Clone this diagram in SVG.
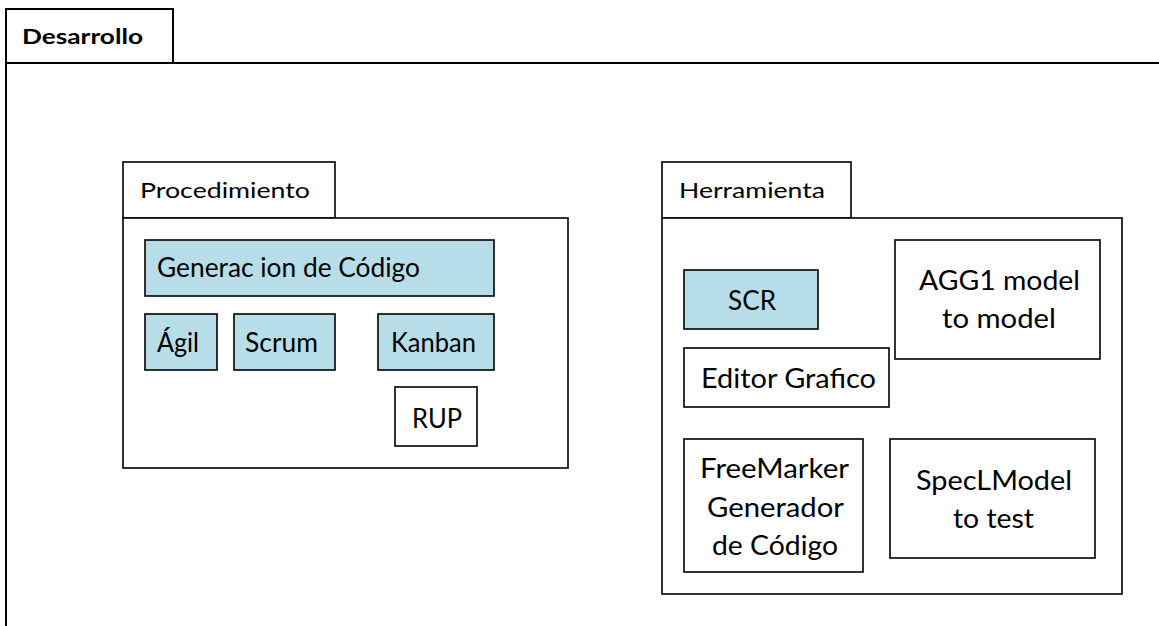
<svg xmlns="http://www.w3.org/2000/svg" width="1159" height="626" viewBox="0 0 1159 626">
<style>
.fr{fill:#fff;stroke:#000;stroke-width:1.6}
.bx{fill:#fff;stroke:#000;stroke-width:1.6}
.bl{fill:#b7dee8;stroke:#000;stroke-width:1.6}
.t{font-family:Lato,"Liberation Sans",sans-serif;font-size:26px;fill:#000}
.tt{font-family:Lato,"Liberation Sans",sans-serif;font-size:21px;fill:#000}
.tb{font-family:Lato,"Liberation Sans",sans-serif;font-size:21px;font-weight:bold;fill:#000}
</style>
<rect width="1159" height="626" fill="#fff"/>
<g id="desarrollo">
<path d="M6,626 V9 H173 V63" fill="none" stroke="#000" stroke-width="2"/>
<path d="M6,63 H1159" fill="none" stroke="#000" stroke-width="2"/>
<text class="tb" x="22" y="44" textLength="121" lengthAdjust="spacingAndGlyphs">Desarrollo</text>
</g>
<g id="procedimiento">
<rect class="fr" x="123" y="162" width="212" height="56"/>
<rect class="fr" x="123" y="218" width="445" height="250"/>
<text class="tt" x="140" y="198" textLength="170" lengthAdjust="spacingAndGlyphs">Procedimiento</text>
</g>
<g id="generacion">
<rect class="bl" x="145" y="240" width="349" height="56"/>
<text class="t" x="157" y="277" textLength="263" lengthAdjust="spacingAndGlyphs">Generac ion de Código</text>
</g>
<g id="agil">
<rect class="bl" x="145" y="314" width="72" height="56"/>
<text class="t" x="157" y="352" textLength="42" lengthAdjust="spacingAndGlyphs">Ágil</text>
</g>
<g id="scrum">
<rect class="bl" x="234" y="314" width="101" height="56"/>
<text class="t" x="245" y="352" textLength="73" lengthAdjust="spacingAndGlyphs">Scrum</text>
</g>
<g id="kanban">
<rect class="bl" x="378" y="314" width="116" height="56"/>
<text class="t" x="391" y="352" textLength="85" lengthAdjust="spacingAndGlyphs">Kanban</text>
</g>
<g id="rup">
<rect class="bx" x="395" y="387" width="82" height="59"/>
<text class="t" x="412" y="428" textLength="50" lengthAdjust="spacingAndGlyphs">RUP</text>
</g>
<g id="herramienta">
<rect class="fr" x="662" y="162" width="189" height="56"/>
<rect class="fr" x="662" y="218" width="460" height="376"/>
<text class="tt" x="679" y="198" textLength="146" lengthAdjust="spacingAndGlyphs">Herramienta</text>
</g>
<g id="scr">
<rect class="bl" x="684" y="270" width="134" height="59"/>
<text class="t" x="728" y="310" textLength="48" lengthAdjust="spacingAndGlyphs">SCR</text>
</g>
<g id="agg1">
<rect class="bx" x="895" y="240" width="205" height="119"/>
<text class="t" x="919" y="290" textLength="161" lengthAdjust="spacingAndGlyphs">AGG1 model</text>
<text class="t" x="942" y="328" textLength="114" lengthAdjust="spacingAndGlyphs">to model</text>
</g>
<g id="editor">
<rect class="bx" x="684" y="348" width="205" height="59"/>
<text class="t" x="701" y="388" textLength="175" lengthAdjust="spacingAndGlyphs">Editor Grafico</text>
</g>
<g id="freemarker">
<rect class="bx" x="684" y="439" width="179" height="133"/>
<text class="t" x="700" y="478" textLength="149" lengthAdjust="spacingAndGlyphs">FreeMarker</text>
<text class="t" x="707" y="517" textLength="137" lengthAdjust="spacingAndGlyphs">Generador</text>
<text class="t" x="712" y="555" textLength="126" lengthAdjust="spacingAndGlyphs">de Código</text>
</g>
<g id="speclmodel">
<rect class="bx" x="890" y="439" width="205" height="119"/>
<text class="t" x="916" y="490" textLength="156" lengthAdjust="spacingAndGlyphs">SpecLModel</text>
<text class="t" x="953" y="528" textLength="81" lengthAdjust="spacingAndGlyphs">to test</text>
</g>
<g id="connectors"/>
</svg>
